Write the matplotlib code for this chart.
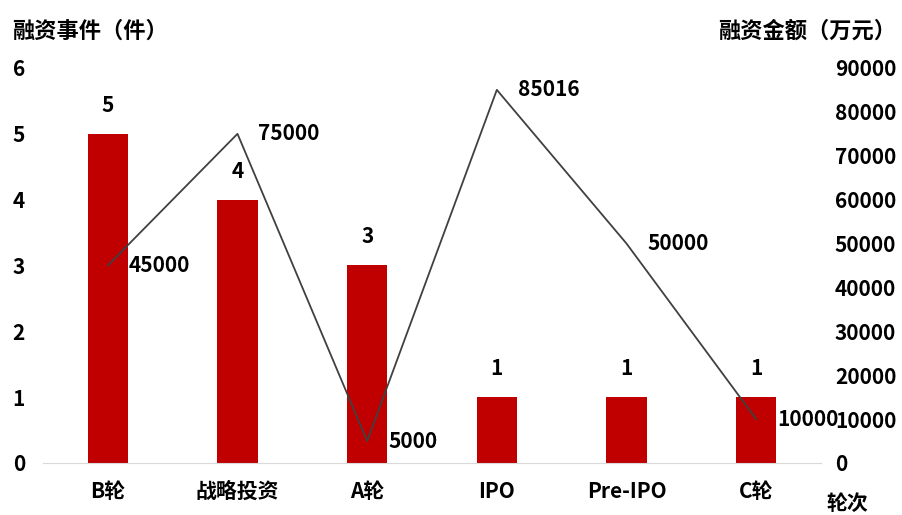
import matplotlib
matplotlib.use("Agg")
from matplotlib import pyplot as plt

plt.rcParams["font.family"] = ["Noto Sans CJK SC", "DejaVu Sans"]
plt.rcParams["font.weight"] = "bold"

rounds = ["B轮", "战略投资", "A轮", "IPO", "Pre-IPO", "C轮"]
eventCounts = [5, 4, 3, 1, 1, 1]
amounts = [45000, 75000, 5000, 85016, 50000, 10000]

barColor = "#c00000"
lineColor = "#404040"
fs = 15

fig = plt.figure(figsize=(9.03, 5.15), dpi=100)
ax = fig.add_axes([0.0476, 0.101, 0.8616, 0.767])
ax2 = ax.twinx()

x = list(range(len(rounds)))
ax.bar(x, eventCounts, width=0.31, color=barColor, zorder=1)
for xi, v in zip(x, eventCounts):
    ax.annotate(str(v), (xi, v), xytext=(0, 13), textcoords="offset points",
                ha="center", va="bottom", fontsize=fs, fontweight="bold")

ax2.plot(x, amounts, color=lineColor, lw=1.3, zorder=3)
for xi, v in zip(x, amounts):
    ax2.annotate(str(v), (xi, v), xytext=(15, 0), textcoords="offset points",
                 ha="left", va="center", fontsize=fs, fontweight="bold")

ax.set_xlim(-0.5, 5.5)
ax.set_ylim(0, 6)
ax2.set_ylim(0, 90000)
ax.set_yticks(range(0, 7))
ax2.set_yticks(range(0, 90001, 10000))
ax.set_xticks(x)
ax.set_xticklabels(rounds, fontsize=fs, fontweight="bold")
ax.tick_params(axis="x", length=0, pad=13)
ax.tick_params(axis="y", length=0, pad=13, labelsize=fs)
ax2.tick_params(axis="y", length=0, pad=10, labelsize=fs)
for lab in ax.get_yticklabels() + ax2.get_yticklabels():
    lab.set_fontweight("bold")

for a in (ax, ax2):
    for s in ("top", "left", "right"):
        a.spines[s].set_visible(False)
    a.spines["bottom"].set_color("#d9d9d9")
ax2.spines["bottom"].set_visible(False)
ax.set_zorder(ax2.get_zorder() - 1)
ax.patch.set_visible(False)

fig.text(0.013, 0.94, "融资事件（件）", fontsize=16, fontweight="bold", va="center", ha="left")
fig.text(0.992, 0.94, "融资金额（万元）", fontsize=16, fontweight="bold", va="center", ha="right")
fig.text(0.915, 0.022, "轮次", fontsize=fs, fontweight="bold", va="center", ha="left")

fig.savefig("out.png", dpi=100, facecolor="white")
